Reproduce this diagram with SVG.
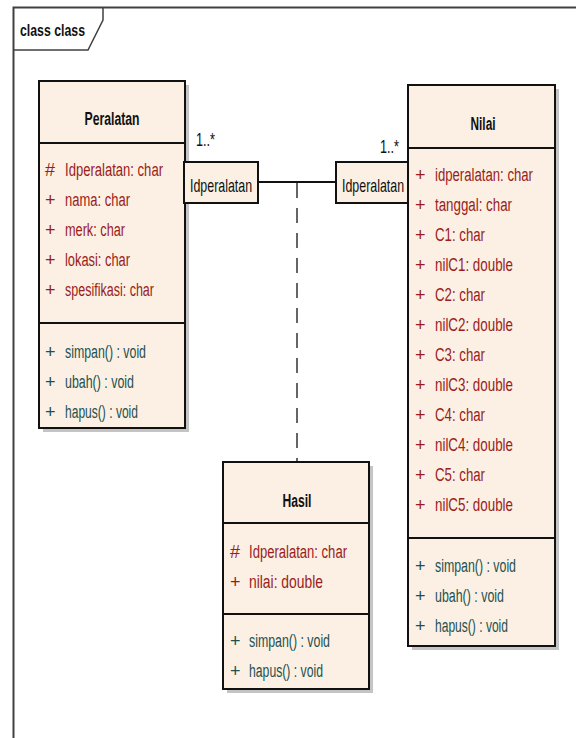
<svg xmlns="http://www.w3.org/2000/svg" width="576" height="738" viewBox="0 0 576 738">
<defs>
<style>
text{font-family:"Liberation Sans",Arial,sans-serif;}
.box{fill:#fbf0e3;stroke:#111;stroke-width:2;}
.shadow{fill:#c4c4c4;stroke:none;}
.sep{stroke:#111;stroke-width:2;}
.title{font-size:18px;font-weight:bold;fill:#111;text-anchor:middle;}
.attr{font-size:18px;fill:#9a1c1c;}
.op{font-size:18px;fill:#1e5050;}
.lbl{font-size:18px;fill:#111;}
.conn{stroke:#111;stroke-width:2;fill:none;}
</style>
</defs>
<rect width="576" height="738" fill="#fff"/>
<g id="frame">
<path d="M13.5,738 V7.5 H576" fill="none" stroke="#404040" stroke-width="2"/>
<path d="M13.5,50 H88 L103,20 V7.5" fill="none" stroke="#404040" stroke-width="1.5"/>
<text x="20" y="36" font-size="16" font-weight="bold" fill="#111" textLength="65" lengthAdjust="spacingAndGlyphs">class class</text>
</g>
<g id="connectors">
<line class="conn" x1="258" y1="182" x2="336" y2="182"/>
<line x1="297" y1="183" x2="297" y2="462" stroke="#333" stroke-width="1.5" stroke-dasharray="15,10"/>
<text class="lbl" x="196" y="146" textLength="19" lengthAdjust="spacingAndGlyphs">1..*</text>
<text class="lbl" x="380" y="153" textLength="19" lengthAdjust="spacingAndGlyphs">1..*</text>
</g>
<g id="Peralatan">
<rect class="shadow" x="43" y="85" width="146" height="347"/>
<rect class="box" x="39" y="81" width="146" height="347"/>
<line class="sep" x1="39" y1="143" x2="185" y2="143"/>
<line class="sep" x1="39" y1="323" x2="185" y2="323"/>
<text class="title" x="112" y="125" textLength="55" lengthAdjust="spacingAndGlyphs">Peralatan</text>
<text class="attr" x="45" y="176">#</text>
<text class="attr" x="65" y="176" textLength="98" lengthAdjust="spacingAndGlyphs">Idperalatan: char</text>
<text class="attr" x="45" y="206">+</text>
<text class="attr" x="65" y="206" textLength="65" lengthAdjust="spacingAndGlyphs">nama: char</text>
<text class="attr" x="45" y="236">+</text>
<text class="attr" x="65" y="236" textLength="60" lengthAdjust="spacingAndGlyphs">merk: char</text>
<text class="attr" x="45" y="266">+</text>
<text class="attr" x="65" y="266" textLength="65" lengthAdjust="spacingAndGlyphs">lokasi: char</text>
<text class="attr" x="45" y="296">+</text>
<text class="attr" x="65" y="296" textLength="89" lengthAdjust="spacingAndGlyphs">spesifikasi: char</text>
<text class="op" x="45" y="358">+</text>
<text class="op" x="65" y="358" textLength="81" lengthAdjust="spacingAndGlyphs">simpan() : void</text>
<text class="op" x="45" y="388">+</text>
<text class="op" x="65" y="388" textLength="69" lengthAdjust="spacingAndGlyphs">ubah() : void</text>
<text class="op" x="45" y="418">+</text>
<text class="op" x="65" y="418" textLength="73" lengthAdjust="spacingAndGlyphs">hapus() : void</text>
</g>
<g id="qualifier-peralatan">
<rect class="box" x="184" y="162" width="74" height="41"/>
<text class="lbl" transform="translate(190,192) scale(0.69,1)">Idperalatan</text>
</g>
<g id="qualifier-nilai">
<rect class="box" x="336" y="162" width="72" height="41"/>
<text class="lbl" transform="translate(342,192) scale(0.69,1)">Idperalatan</text>
</g>
<g id="Nilai">
<rect class="shadow" x="412" y="89" width="147" height="561"/>
<rect class="box" x="408" y="85" width="147" height="561"/>
<line class="sep" x1="408" y1="148" x2="555" y2="148"/>
<line class="sep" x1="408" y1="538" x2="555" y2="538"/>
<text class="title" x="483" y="130" textLength="25" lengthAdjust="spacingAndGlyphs">Nilai</text>
<text class="attr" x="415" y="181">+</text>
<text class="attr" x="435" y="181" textLength="98" lengthAdjust="spacingAndGlyphs">idperalatan: char</text>
<text class="attr" x="415" y="211">+</text>
<text class="attr" x="435" y="211" textLength="77" lengthAdjust="spacingAndGlyphs">tanggal: char</text>
<text class="attr" x="415" y="241">+</text>
<text class="attr" x="435" y="241" textLength="50" lengthAdjust="spacingAndGlyphs">C1: char</text>
<text class="attr" x="415" y="271">+</text>
<text class="attr" x="435" y="271" textLength="78" lengthAdjust="spacingAndGlyphs">nilC1: double</text>
<text class="attr" x="415" y="301">+</text>
<text class="attr" x="435" y="301" textLength="50" lengthAdjust="spacingAndGlyphs">C2: char</text>
<text class="attr" x="415" y="331">+</text>
<text class="attr" x="435" y="331" textLength="78" lengthAdjust="spacingAndGlyphs">nilC2: double</text>
<text class="attr" x="415" y="361">+</text>
<text class="attr" x="435" y="361" textLength="50" lengthAdjust="spacingAndGlyphs">C3: char</text>
<text class="attr" x="415" y="391">+</text>
<text class="attr" x="435" y="391" textLength="78" lengthAdjust="spacingAndGlyphs">nilC3: double</text>
<text class="attr" x="415" y="421">+</text>
<text class="attr" x="435" y="421" textLength="50" lengthAdjust="spacingAndGlyphs">C4: char</text>
<text class="attr" x="415" y="451">+</text>
<text class="attr" x="435" y="451" textLength="78" lengthAdjust="spacingAndGlyphs">nilC4: double</text>
<text class="attr" x="415" y="481">+</text>
<text class="attr" x="435" y="481" textLength="50" lengthAdjust="spacingAndGlyphs">C5: char</text>
<text class="attr" x="415" y="511">+</text>
<text class="attr" x="435" y="511" textLength="78" lengthAdjust="spacingAndGlyphs">nilC5: double</text>
<text class="op" x="415" y="572">+</text>
<text class="op" x="435" y="572" textLength="81" lengthAdjust="spacingAndGlyphs">simpan() : void</text>
<text class="op" x="415" y="602">+</text>
<text class="op" x="435" y="602" textLength="69" lengthAdjust="spacingAndGlyphs">ubah() : void</text>
<text class="op" x="415" y="632">+</text>
<text class="op" x="435" y="632" textLength="73" lengthAdjust="spacingAndGlyphs">hapus() : void</text>
</g>
<g id="Hasil">
<rect class="shadow" x="227" y="466" width="146" height="227"/>
<rect class="box" x="223" y="462" width="146" height="227"/>
<line class="sep" x1="223" y1="523" x2="369" y2="523"/>
<line class="sep" x1="223" y1="614" x2="369" y2="614"/>
<text class="title" x="297" y="507" textLength="29" lengthAdjust="spacingAndGlyphs">Hasil</text>
<text class="attr" x="230" y="558">#</text>
<text class="attr" x="249" y="558" textLength="98" lengthAdjust="spacingAndGlyphs">Idperalatan: char</text>
<text class="attr" x="230" y="588">+</text>
<text class="attr" x="249" y="588" textLength="74" lengthAdjust="spacingAndGlyphs">nilai: double</text>
<text class="op" x="230" y="647">+</text>
<text class="op" x="249" y="647" textLength="81" lengthAdjust="spacingAndGlyphs">simpan() : void</text>
<text class="op" x="230" y="677">+</text>
<text class="op" x="249" y="677" textLength="74" lengthAdjust="spacingAndGlyphs">hapus() : void</text>
</g>
</svg>
